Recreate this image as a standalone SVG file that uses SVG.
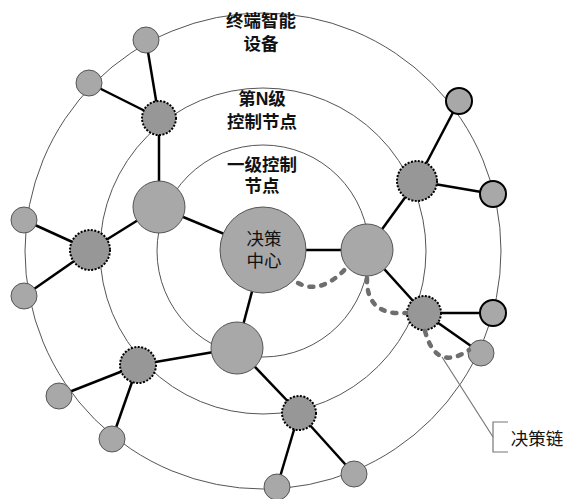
<svg xmlns="http://www.w3.org/2000/svg" width="574" height="499" viewBox="0 0 574 499">
<style>
.ring{fill:none;stroke:#555;stroke-width:1}
.edge{stroke:#000;stroke-width:2.5;fill:none}
.t{fill:#a8a8a8;stroke:#555;stroke-width:1}
.tb{fill:#a8a8a8;stroke:#000;stroke-width:2}
.l1{fill:#a8a8a8;stroke:#555;stroke-width:1}
.ln{fill:#979797;stroke:#000;stroke-width:2;stroke-dasharray:2 1.5}
.chain{fill:none;stroke:#6e6e6e;stroke-width:4.5;stroke-linecap:round;stroke-dasharray:4 8}
.lbl{font-family:"Liberation Sans","Noto Sans CJK SC","Noto Sans CJK JP",sans-serif;font-size:17.5px;font-weight:bold;fill:#111;text-anchor:middle}
.reg{font-weight:normal}
.lead{fill:none;stroke:#777;stroke-width:1.2}
</style>
<rect width="574" height="499" fill="#fff"/>
<g id="rings">
<circle class="ring" cx="263" cy="251" r="238"/>
<circle class="ring" cx="263" cy="251" r="163"/>
<circle class="ring" cx="263" cy="251" r="106"/>
</g>
<g id="connectors">
<line class="edge" x1="146" y1="40" x2="159" y2="118"/>
<line class="edge" x1="89" y1="83" x2="159" y2="118"/>
<line class="edge" x1="159" y1="118" x2="159" y2="207"/>
<line class="edge" x1="159" y1="207" x2="263" y2="250"/>
<line class="edge" x1="159" y1="207" x2="90" y2="250"/>
<line class="edge" x1="90" y1="250" x2="24" y2="220"/>
<line class="edge" x1="90" y1="250" x2="24" y2="296"/>
<line class="edge" x1="263" y1="250" x2="367" y2="250"/>
<line class="edge" x1="263" y1="250" x2="237" y2="348"/>
<line class="edge" x1="237" y1="348" x2="138" y2="365"/>
<line class="edge" x1="138" y1="365" x2="59" y2="396"/>
<line class="edge" x1="138" y1="365" x2="112" y2="439"/>
<line class="edge" x1="237" y1="348" x2="299" y2="413"/>
<line class="edge" x1="299" y1="413" x2="277" y2="487"/>
<line class="edge" x1="299" y1="413" x2="354" y2="474"/>
<line class="edge" x1="367" y1="250" x2="417" y2="181"/>
<line class="edge" x1="417" y1="181" x2="459" y2="101"/>
<line class="edge" x1="417" y1="181" x2="493" y2="194"/>
<line class="edge" x1="367" y1="250" x2="424" y2="313"/>
<line class="edge" x1="424" y1="313" x2="493" y2="313"/>
<line class="edge" x1="424" y1="313" x2="481" y2="353"/>
</g>
<g id="center"><circle class="l1" cx="263" cy="250" r="43"/>
<text class="lbl reg" x="264" y="245">决策</text><text class="lbl reg" x="264" y="267">中心</text></g>
<g id="n1a"><circle class="l1" cx="159" cy="207" r="26"/></g>
<g id="n1b"><circle class="l1" cx="367" cy="250" r="26"/></g>
<g id="n1c"><circle class="l1" cx="237" cy="348" r="26"/></g>
<g id="nNa"><circle class="ln" cx="159" cy="118" r="17"/></g>
<g id="nNb"><circle class="ln" cx="90" cy="250" r="20"/></g>
<g id="nNc"><circle class="ln" cx="138" cy="365" r="18"/></g>
<g id="nNd"><circle class="ln" cx="299" cy="413" r="17"/></g>
<g id="nNe"><circle class="ln" cx="417" cy="181" r="20"/></g>
<g id="nNf"><circle class="ln" cx="424" cy="313" r="17"/></g>
<g id="t1"><circle class="t" cx="146" cy="40" r="13"/></g>
<g id="t2"><circle class="t" cx="89" cy="83" r="13"/></g>
<g id="t3"><circle class="t" cx="24" cy="220" r="13"/></g>
<g id="t4"><circle class="t" cx="24" cy="296" r="13"/></g>
<g id="t5"><circle class="t" cx="59" cy="396" r="13"/></g>
<g id="t6"><circle class="t" cx="112" cy="439" r="13"/></g>
<g id="t7"><circle class="t" cx="277" cy="487" r="13"/></g>
<g id="t8"><circle class="t" cx="354" cy="474" r="13"/></g>
<g id="t9"><circle class="tb" cx="459" cy="101" r="13"/></g>
<g id="t10"><circle class="tb" cx="493" cy="194" r="13"/></g>
<g id="t11"><circle class="tb" cx="493" cy="313" r="13"/></g>
<g id="t12"><circle class="t" cx="481" cy="353" r="13"/></g>
<g id="chain">
<path class="chain" d="M298,283 Q322,296 349,265"/>
<path class="chain" d="M367,278 Q366,316 406,313"/>
<path class="chain" d="M425,331 Q436,372 469,350"/>
</g>
<g id="chain-label">
<polyline class="lead" points="442,357 493,437"/>
<polyline class="lead" points="508,422 493,422 493,452 508,452"/>
<text class="lbl reg" x="537" y="445">决策链</text>
</g>
<g id="ring-labels">
<text class="lbl" x="261" y="27">终端智能</text>
<text class="lbl" x="261" y="50">设备</text>
<text class="lbl" x="262" y="105">第N级</text>
<text class="lbl" x="262" y="128">控制节点</text>
<text class="lbl" x="262" y="171">一级控制</text>
<text class="lbl" x="262" y="192">节点</text>
</g>
</svg>
